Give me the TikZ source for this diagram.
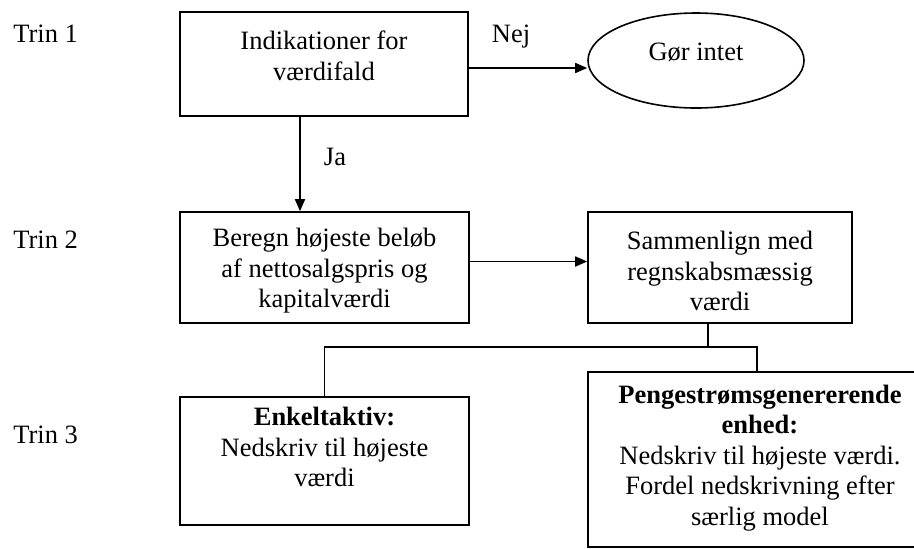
\documentclass[tikz,border=0pt]{standalone}
\usepackage{fontspec}
\setmainfont{Liberation Serif}
\usetikzlibrary{shapes.geometric,arrows.meta}
\begin{document}
\begin{tikzpicture}[x=0.5pt,y=-0.5pt,
  every node/.style={font=\fontsize{13.25}{15.3}\selectfont},
  boxst/.style={draw, line width=0.8pt, rectangle, inner sep=0pt},
  ellst/.style={draw, line width=0.8pt, ellipse, inner sep=0pt},
  txt/.style={align=center, inner sep=0pt},
  lbl/.style={inner sep=0pt},
  conn/.style={line width=0.8pt},
  arr/.style={conn, -{Triangle[length=6pt,width=5pt]}}]
\clip (0,0) rectangle (914,548);
% boxes
\node[boxst, minimum width=144pt, minimum height=52pt] (box1) at (324,64) {};
\node[ellst, minimum width=108pt, minimum height=47.5pt] (gor) at (696,60.5) {};
\node[boxst, minimum width=144.5pt, minimum height=55.5pt] (box2) at (324.5,267.5) {};
\node[boxst, minimum width=132pt, minimum height=55.5pt] (box3) at (720,267.5) {};
\node[boxst, minimum width=144.5pt, minimum height=64pt] (box4) at (324.5,461) {};
\node[boxst, minimum width=172pt, minimum height=87.5pt] (box5) at (760,459.5) {};
% texts
\node[txt] (t1) at (324,55.5) {Indikationer for\\værdifald};
\node[txt] (tg) at (696,52) {Gør intet};
\node[txt] (t2) at (324.5,271) {Beregn højeste beløb\\af nettosalgspris og\\kapitalværdi};
\node[txt] (t3) at (720,271) {Sammenlign med\\regnskabsmæssig\\værdi};
\node[txt] (t4) at (324.5,447) {\textbf{Enkeltaktiv:}\\Nedskriv til højeste\\værdi};
\node[txt] (t5) at (760,458) {\textbf{Pengestrømsgenererende}\\\textbf{enhed:}\\Nedskriv til højeste værdi.\\Fordel nedskrivning efter\\særlig model};
% labels
\node[lbl, anchor=west] (trin1) at (13,34) {Trin 1};
\node[lbl, anchor=west] (trin2) at (13,240) {Trin 2};
\node[lbl, anchor=west] (trin3) at (13,435) {Trin 3};
\node[lbl] (nej) at (511,37) {Nej};
\node[lbl] (ja) at (335,157) {Ja};
% connectors
\draw[arr] ([yshift=-2pt]box1.east) -- ([yshift=-2pt]box1.east -| gor.west);
\draw[arr] ([xshift=-12pt]box1.south) -- ([xshift=-12pt]box1.south |- box2.north);
\draw[arr] ([yshift=3pt]box2.east) -- ([yshift=3pt]box2.east -| box3.west);
\coordinate (split) at (708,347);
\draw[conn] ([xshift=-6pt]box3.south) -- ([xshift=-6pt]box3.south |- split);
\draw[conn] (box4.north) |- (split) -| ([xshift=-1.5pt]box5.north);
\end{tikzpicture}
\end{document}
